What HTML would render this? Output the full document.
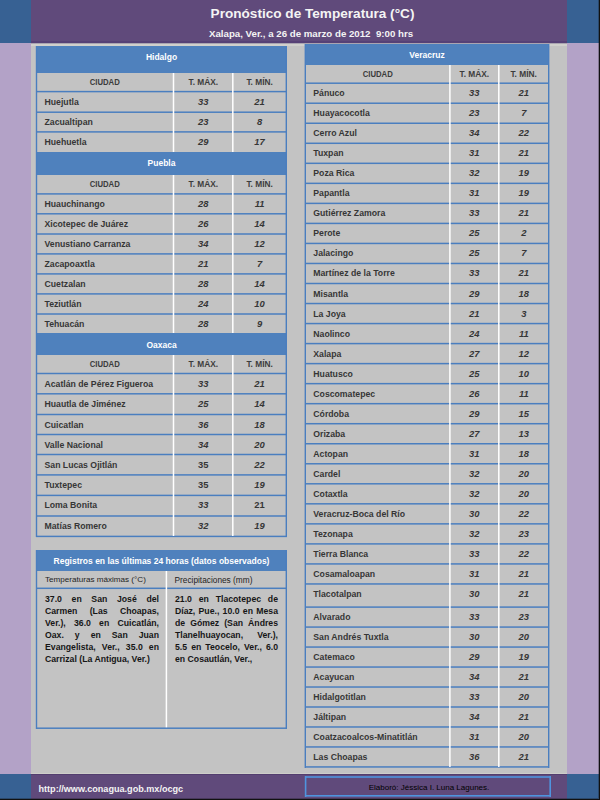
<!DOCTYPE html>
<html><head><meta charset="utf-8"><style>
html,body{margin:0;padding:0;}
body{width:600px;height:800px;position:relative;overflow:hidden;background:#C3C3C3;font-family:"Liberation Sans",sans-serif;}
body>div{position:absolute;white-space:nowrap;overflow:visible;}
.title{color:#F4F4F4;font-weight:bold;font-size:13.6px;}
.sub{color:#F4F4F4;font-weight:bold;font-size:9.7px;}
.hdr{color:#FFFFFF;font-weight:bold;font-size:8.5px;}
.hdr2{color:#FFFFFF;font-weight:bold;font-size:8.5px;}
.colh{color:#3C3C3C;font-weight:bold;font-size:8.6px;}
.city{color:#363636;font-weight:bold;font-size:8.7px;}
.num{color:#363636;font-weight:bold;font-style:italic;font-size:9.4px;}
.numr{color:#363636;font-weight:bold;font-size:9.4px;}
.sub2{color:#1E1E1E;font-size:8.1px;}
.body{color:#161616;font-weight:bold;font-size:8.7px;line-height:12px;height:12px;}
.url{color:#F4F4F4;font-weight:bold;font-size:9.1px;}
.elab{color:#000;font-size:8px;}
</style></head><body>
<div style="left:0px;top:0px;width:31px;height:43px;background:#376193;"></div>
<div style="left:31px;top:0px;width:536px;height:43px;background:#604A7B;"></div>
<div style="left:567px;top:0px;width:32px;height:43px;background:#376193;"></div>
<div style="left:0px;top:43px;width:31px;height:731px;background:#B3A2C7;"></div>
<div style="left:567px;top:43px;width:32px;height:731px;background:#B3A2C7;"></div>
<div style="left:0px;top:774px;width:31px;height:25px;background:#376193;"></div>
<div style="left:31px;top:774px;width:536px;height:25px;background:#604A7B;"></div>
<div style="left:567px;top:774px;width:32px;height:25px;background:#376193;"></div>
<div style="left:31px;top:41px;width:536px;height:2px;background:rgba(70,50,110,0.35);"></div>
<div style="left:31px;top:43px;width:536px;height:1px;background:rgba(96,74,123,0.25);"></div>
<div style="left:31px;top:44px;width:536px;height:2px;background:rgba(225,225,215,0.45);"></div>
<div style="left:31px;top:773px;width:536px;height:1px;background:rgba(225,225,215,0.35);"></div>
<div style="left:31px;top:774px;width:536px;height:1px;background:rgba(60,40,90,0.35);"></div>
<div style="left:599px;top:0px;width:1px;height:800px;background:#111;"></div>
<div style="left:0px;top:799px;width:600px;height:1px;background:#111;"></div>
<div style="left:598px;top:0px;width:1px;height:799px;background:rgba(17,17,17,0.3);"></div>
<div style="left:0px;top:798px;width:598px;height:1px;background:rgba(17,17,17,0.3);"></div>
<div class="title" style="left:112.5px;top:5px;width:400px;height:18px;line-height:18px;text-align:center;">Pronóstico de Temperatura (°C)</div>
<div class="sub" style="left:111px;top:26.5px;width:400px;height:13px;line-height:13px;text-align:center;">Xalapa, Ver., a 26 de marzo de 2012&nbsp; 9:00 hrs</div>
<div style="left:36px;top:46px;width:251px;height:27px;background:#4F81BD;"></div>
<div class="hdr" style="left:36px;top:44px;width:251px;height:27px;line-height:27px;text-align:center;">Hidalgo</div>
<div class="colh" style="left:36.5px;top:73px;width:137.0px;height:18px;line-height:18px;text-align:center;"><span style="display:inline-block;transform:scaleX(0.9)">CIUDAD</span></div>
<div class="colh" style="left:173.5px;top:73px;width:59.3px;height:18px;line-height:18px;text-align:center;"><span style="display:inline-block;transform:scaleX(0.97)">T. MÁX.</span></div>
<div class="colh" style="left:232.8px;top:73px;width:53.5px;height:18px;line-height:18px;text-align:center;"><span style="display:inline-block;transform:scaleX(0.97)">T. MÍN.</span></div>
<div style="left:36px;top:90px;width:251px;height:1px;background:rgba(74,126,191,0.15);"></div>
<div style="left:36px;top:91px;width:251px;height:1px;background:rgba(74,126,191,1.00);"></div>
<div style="left:36px;top:92px;width:251px;height:1px;background:rgba(74,126,191,0.35);"></div>
<div style="left:36px;top:111px;width:251px;height:1px;background:rgba(74,126,191,0.55);"></div>
<div style="left:36px;top:112px;width:251px;height:1px;background:rgba(74,126,191,0.95);"></div>
<div style="left:36px;top:131px;width:251px;height:1px;background:rgba(74,126,191,0.85);"></div>
<div style="left:36px;top:132px;width:251px;height:1px;background:rgba(74,126,191,0.65);"></div>
<div class="city" style="left:44.5px;top:91.6px;width:129.0px;height:20px;line-height:20px;text-align:left;">Huejutla</div>
<div class="num" style="left:173.5px;top:91.6px;width:59.3px;height:20px;line-height:20px;text-align:center;">33</div>
<div class="num" style="left:232.8px;top:91.6px;width:53.5px;height:20px;line-height:20px;text-align:center;">21</div>
<div class="city" style="left:44.5px;top:112.2px;width:129.0px;height:20px;line-height:20px;text-align:left;">Zacualtipan</div>
<div class="num" style="left:173.5px;top:112.2px;width:59.3px;height:20px;line-height:20px;text-align:center;">23</div>
<div class="num" style="left:232.8px;top:112.2px;width:53.5px;height:20px;line-height:20px;text-align:center;">8</div>
<div class="city" style="left:44.5px;top:131.9px;width:129.0px;height:20px;line-height:20px;text-align:left;">Huehuetla</div>
<div class="num" style="left:173.5px;top:131.9px;width:59.3px;height:20px;line-height:20px;text-align:center;">29</div>
<div class="num" style="left:232.8px;top:131.9px;width:53.5px;height:20px;line-height:20px;text-align:center;">17</div>
<div style="left:172px;top:73px;width:1px;height:79px;background:rgba(255,255,255,0.25);"></div>
<div style="left:173px;top:73px;width:1px;height:79px;background:rgba(255,255,255,1.00);"></div>
<div style="left:174px;top:73px;width:1px;height:79px;background:rgba(255,255,255,0.25);"></div>
<div style="left:232px;top:73px;width:1px;height:79px;background:rgba(255,255,255,0.95);"></div>
<div style="left:233px;top:73px;width:1px;height:79px;background:rgba(255,255,255,0.55);"></div>
<div style="left:36px;top:152px;width:251px;height:23px;background:#4F81BD;"></div>
<div class="hdr" style="left:36px;top:152px;width:251px;height:23px;line-height:23px;text-align:center;">Puebla</div>
<div class="colh" style="left:36.5px;top:175px;width:137.0px;height:19px;line-height:19px;text-align:center;"><span style="display:inline-block;transform:scaleX(0.9)">CIUDAD</span></div>
<div class="colh" style="left:173.5px;top:175px;width:59.3px;height:19px;line-height:19px;text-align:center;"><span style="display:inline-block;transform:scaleX(0.97)">T. MÁX.</span></div>
<div class="colh" style="left:232.8px;top:175px;width:53.5px;height:19px;line-height:19px;text-align:center;"><span style="display:inline-block;transform:scaleX(0.97)">T. MÍN.</span></div>
<div style="left:36px;top:193px;width:251px;height:1px;background:rgba(74,126,191,0.85);"></div>
<div style="left:36px;top:194px;width:251px;height:1px;background:rgba(74,126,191,0.65);"></div>
<div style="left:36px;top:213px;width:251px;height:1px;background:rgba(74,126,191,0.95);"></div>
<div style="left:36px;top:214px;width:251px;height:1px;background:rgba(74,126,191,0.55);"></div>
<div style="left:36px;top:233px;width:251px;height:1px;background:rgba(74,126,191,0.75);"></div>
<div style="left:36px;top:234px;width:251px;height:1px;background:rgba(74,126,191,0.75);"></div>
<div style="left:36px;top:253px;width:251px;height:1px;background:rgba(74,126,191,0.85);"></div>
<div style="left:36px;top:254px;width:251px;height:1px;background:rgba(74,126,191,0.65);"></div>
<div style="left:36px;top:273px;width:251px;height:1px;background:rgba(74,126,191,0.85);"></div>
<div style="left:36px;top:274px;width:251px;height:1px;background:rgba(74,126,191,0.65);"></div>
<div style="left:36px;top:293px;width:251px;height:1px;background:rgba(74,126,191,0.85);"></div>
<div style="left:36px;top:294px;width:251px;height:1px;background:rgba(74,126,191,0.65);"></div>
<div style="left:36px;top:313px;width:251px;height:1px;background:rgba(74,126,191,0.75);"></div>
<div style="left:36px;top:314px;width:251px;height:1px;background:rgba(74,126,191,0.75);"></div>
<div class="city" style="left:44.5px;top:193.9px;width:129.0px;height:20px;line-height:20px;text-align:left;">Huauchinango</div>
<div class="num" style="left:173.5px;top:193.9px;width:59.3px;height:20px;line-height:20px;text-align:center;">28</div>
<div class="num" style="left:232.8px;top:193.9px;width:53.5px;height:20px;line-height:20px;text-align:center;">11</div>
<div class="city" style="left:44.5px;top:213.8px;width:129.0px;height:20px;line-height:20px;text-align:left;">Xicotepec de Juárez</div>
<div class="num" style="left:173.5px;top:213.8px;width:59.3px;height:20px;line-height:20px;text-align:center;">26</div>
<div class="num" style="left:232.8px;top:213.8px;width:53.5px;height:20px;line-height:20px;text-align:center;">14</div>
<div class="city" style="left:44.5px;top:234.0px;width:129.0px;height:20px;line-height:20px;text-align:left;">Venustiano Carranza</div>
<div class="num" style="left:173.5px;top:234.0px;width:59.3px;height:20px;line-height:20px;text-align:center;">34</div>
<div class="num" style="left:232.8px;top:234.0px;width:53.5px;height:20px;line-height:20px;text-align:center;">12</div>
<div class="city" style="left:44.5px;top:253.9px;width:129.0px;height:20px;line-height:20px;text-align:left;">Zacapoaxtla</div>
<div class="num" style="left:173.5px;top:253.9px;width:59.3px;height:20px;line-height:20px;text-align:center;">21</div>
<div class="num" style="left:232.8px;top:253.9px;width:53.5px;height:20px;line-height:20px;text-align:center;">7</div>
<div class="city" style="left:44.5px;top:273.9px;width:129.0px;height:20px;line-height:20px;text-align:left;">Cuetzalan</div>
<div class="num" style="left:173.5px;top:273.9px;width:59.3px;height:20px;line-height:20px;text-align:center;">28</div>
<div class="num" style="left:232.8px;top:273.9px;width:53.5px;height:20px;line-height:20px;text-align:center;">14</div>
<div class="city" style="left:44.5px;top:293.9px;width:129.0px;height:20px;line-height:20px;text-align:left;">Teziutlán</div>
<div class="num" style="left:173.5px;top:293.9px;width:59.3px;height:20px;line-height:20px;text-align:center;">24</div>
<div class="num" style="left:232.8px;top:293.9px;width:53.5px;height:20px;line-height:20px;text-align:center;">10</div>
<div class="city" style="left:44.5px;top:314.0px;width:129.0px;height:20px;line-height:20px;text-align:left;">Tehuacán</div>
<div class="num" style="left:173.5px;top:314.0px;width:59.3px;height:20px;line-height:20px;text-align:center;">28</div>
<div class="num" style="left:232.8px;top:314.0px;width:53.5px;height:20px;line-height:20px;text-align:center;">9</div>
<div style="left:172px;top:175px;width:1px;height:158px;background:rgba(255,255,255,0.25);"></div>
<div style="left:173px;top:175px;width:1px;height:158px;background:rgba(255,255,255,1.00);"></div>
<div style="left:174px;top:175px;width:1px;height:158px;background:rgba(255,255,255,0.25);"></div>
<div style="left:232px;top:175px;width:1px;height:158px;background:rgba(255,255,255,0.95);"></div>
<div style="left:233px;top:175px;width:1px;height:158px;background:rgba(255,255,255,0.55);"></div>
<div style="left:36px;top:333px;width:251px;height:22px;background:#4F81BD;"></div>
<div class="hdr" style="left:36px;top:334px;width:251px;height:22px;line-height:22px;text-align:center;">Oaxaca</div>
<div class="colh" style="left:36.5px;top:355px;width:137.0px;height:18px;line-height:18px;text-align:center;"><span style="display:inline-block;transform:scaleX(0.9)">CIUDAD</span></div>
<div class="colh" style="left:173.5px;top:355px;width:59.3px;height:18px;line-height:18px;text-align:center;"><span style="display:inline-block;transform:scaleX(0.97)">T. MÁX.</span></div>
<div class="colh" style="left:232.8px;top:355px;width:53.5px;height:18px;line-height:18px;text-align:center;"><span style="display:inline-block;transform:scaleX(0.97)">T. MÍN.</span></div>
<div style="left:36px;top:372px;width:251px;height:1px;background:rgba(74,126,191,0.25);"></div>
<div style="left:36px;top:373px;width:251px;height:1px;background:rgba(74,126,191,1.00);"></div>
<div style="left:36px;top:374px;width:251px;height:1px;background:rgba(74,126,191,0.25);"></div>
<div style="left:36px;top:393px;width:251px;height:1px;background:rgba(74,126,191,0.95);"></div>
<div style="left:36px;top:394px;width:251px;height:1px;background:rgba(74,126,191,0.55);"></div>
<div style="left:36px;top:413px;width:251px;height:1px;background:rgba(74,126,191,0.25);"></div>
<div style="left:36px;top:414px;width:251px;height:1px;background:rgba(74,126,191,1.00);"></div>
<div style="left:36px;top:415px;width:251px;height:1px;background:rgba(74,126,191,0.25);"></div>
<div style="left:36px;top:433px;width:251px;height:1px;background:rgba(74,126,191,0.25);"></div>
<div style="left:36px;top:434px;width:251px;height:1px;background:rgba(74,126,191,1.00);"></div>
<div style="left:36px;top:435px;width:251px;height:1px;background:rgba(74,126,191,0.25);"></div>
<div style="left:36px;top:453px;width:251px;height:1px;background:rgba(74,126,191,0.25);"></div>
<div style="left:36px;top:454px;width:251px;height:1px;background:rgba(74,126,191,1.00);"></div>
<div style="left:36px;top:455px;width:251px;height:1px;background:rgba(74,126,191,0.25);"></div>
<div style="left:36px;top:474px;width:251px;height:1px;background:rgba(74,126,191,0.85);"></div>
<div style="left:36px;top:475px;width:251px;height:1px;background:rgba(74,126,191,0.65);"></div>
<div style="left:36px;top:494px;width:251px;height:1px;background:rgba(74,126,191,0.35);"></div>
<div style="left:36px;top:495px;width:251px;height:1px;background:rgba(74,126,191,1.00);"></div>
<div style="left:36px;top:496px;width:251px;height:1px;background:rgba(74,126,191,0.15);"></div>
<div style="left:36px;top:515px;width:251px;height:1px;background:rgba(74,126,191,0.75);"></div>
<div style="left:36px;top:516px;width:251px;height:1px;background:rgba(74,126,191,0.75);"></div>
<div style="left:36px;top:535px;width:251px;height:1px;background:rgba(74,126,191,0.35);"></div>
<div style="left:36px;top:536px;width:251px;height:1px;background:rgba(74,126,191,1.00);"></div>
<div style="left:36px;top:537px;width:251px;height:1px;background:rgba(74,126,191,0.15);"></div>
<div class="city" style="left:44.5px;top:373.5px;width:129.0px;height:20px;line-height:20px;text-align:left;">Acatlán de Pérez Figueroa</div>
<div class="num" style="left:173.5px;top:373.5px;width:59.3px;height:20px;line-height:20px;text-align:center;">33</div>
<div class="num" style="left:232.8px;top:373.5px;width:53.5px;height:20px;line-height:20px;text-align:center;">21</div>
<div class="city" style="left:44.5px;top:393.8px;width:129.0px;height:20px;line-height:20px;text-align:left;">Huautla de Jiménez</div>
<div class="num" style="left:173.5px;top:393.8px;width:59.3px;height:20px;line-height:20px;text-align:center;">25</div>
<div class="num" style="left:232.8px;top:393.8px;width:53.5px;height:20px;line-height:20px;text-align:center;">14</div>
<div class="city" style="left:44.5px;top:414.5px;width:129.0px;height:20px;line-height:20px;text-align:left;">Cuicatlan</div>
<div class="num" style="left:173.5px;top:414.5px;width:59.3px;height:20px;line-height:20px;text-align:center;">36</div>
<div class="num" style="left:232.8px;top:414.5px;width:53.5px;height:20px;line-height:20px;text-align:center;">18</div>
<div class="city" style="left:44.5px;top:434.5px;width:129.0px;height:20px;line-height:20px;text-align:left;">Valle Nacional</div>
<div class="num" style="left:173.5px;top:434.5px;width:59.3px;height:20px;line-height:20px;text-align:center;">34</div>
<div class="num" style="left:232.8px;top:434.5px;width:53.5px;height:20px;line-height:20px;text-align:center;">20</div>
<div class="city" style="left:44.5px;top:454.5px;width:129.0px;height:20px;line-height:20px;text-align:left;">San Lucas Ojitlán</div>
<div class="numr" style="left:173.5px;top:454.5px;width:59.3px;height:20px;line-height:20px;text-align:center;">35</div>
<div class="num" style="left:232.8px;top:454.5px;width:53.5px;height:20px;line-height:20px;text-align:center;">22</div>
<div class="city" style="left:44.5px;top:474.9px;width:129.0px;height:20px;line-height:20px;text-align:left;">Tuxtepec</div>
<div class="numr" style="left:173.5px;top:474.9px;width:59.3px;height:20px;line-height:20px;text-align:center;">35</div>
<div class="num" style="left:232.8px;top:474.9px;width:53.5px;height:20px;line-height:20px;text-align:center;">19</div>
<div class="city" style="left:44.5px;top:495.4px;width:129.0px;height:20px;line-height:20px;text-align:left;">Loma Bonita</div>
<div class="num" style="left:173.5px;top:495.4px;width:59.3px;height:20px;line-height:20px;text-align:center;">33</div>
<div class="numr" style="left:232.8px;top:495.4px;width:53.5px;height:20px;line-height:20px;text-align:center;">21</div>
<div class="city" style="left:44.5px;top:516.0px;width:129.0px;height:20px;line-height:20px;text-align:left;">Matías Romero</div>
<div class="num" style="left:173.5px;top:516.0px;width:59.3px;height:20px;line-height:20px;text-align:center;">32</div>
<div class="num" style="left:232.8px;top:516.0px;width:53.5px;height:20px;line-height:20px;text-align:center;">19</div>
<div style="left:172px;top:355px;width:1px;height:181px;background:rgba(255,255,255,0.25);"></div>
<div style="left:173px;top:355px;width:1px;height:181px;background:rgba(255,255,255,1.00);"></div>
<div style="left:174px;top:355px;width:1px;height:181px;background:rgba(255,255,255,0.25);"></div>
<div style="left:232px;top:355px;width:1px;height:181px;background:rgba(255,255,255,0.95);"></div>
<div style="left:233px;top:355px;width:1px;height:181px;background:rgba(255,255,255,0.55);"></div>
<div style="left:35px;top:46px;width:1px;height:491px;background:rgba(74,126,191,0.20);"></div>
<div style="left:36px;top:46px;width:1px;height:491px;background:rgba(74,126,191,1.00);"></div>
<div style="left:37px;top:46px;width:1px;height:491px;background:rgba(74,126,191,0.20);"></div>
<div style="left:285px;top:46px;width:1px;height:491px;background:rgba(74,126,191,0.40);"></div>
<div style="left:286px;top:46px;width:1px;height:491px;background:rgba(74,126,191,1.00);"></div>
<div style="left:305px;top:44px;width:244px;height:21px;background:#4F81BD;"></div>
<div class="hdr" style="left:305px;top:44.5px;width:244px;height:21px;line-height:21px;text-align:center;">Veracruz</div>
<div class="colh" style="left:305.3px;top:65px;width:144.6px;height:18px;line-height:18px;text-align:center;"><span style="display:inline-block;transform:scaleX(0.9)">CIUDAD</span></div>
<div class="colh" style="left:449.9px;top:65px;width:48.9px;height:18px;line-height:18px;text-align:center;"><span style="display:inline-block;transform:scaleX(0.97)">T. MÁX.</span></div>
<div class="colh" style="left:498.8px;top:65px;width:49.9px;height:18px;line-height:18px;text-align:center;"><span style="display:inline-block;transform:scaleX(0.97)">T. MÍN.</span></div>
<div style="left:305px;top:82px;width:244px;height:1px;background:rgba(74,126,191,0.55);"></div>
<div style="left:305px;top:83px;width:244px;height:1px;background:rgba(74,126,191,0.95);"></div>
<div style="left:305px;top:102px;width:244px;height:1px;background:rgba(74,126,191,0.52);"></div>
<div style="left:305px;top:103px;width:244px;height:1px;background:rgba(74,126,191,0.98);"></div>
<div style="left:305px;top:122px;width:244px;height:1px;background:rgba(74,126,191,0.49);"></div>
<div style="left:305px;top:123px;width:244px;height:1px;background:rgba(74,126,191,1.00);"></div>
<div style="left:305px;top:142px;width:244px;height:1px;background:rgba(74,126,191,0.46);"></div>
<div style="left:305px;top:143px;width:244px;height:1px;background:rgba(74,126,191,1.00);"></div>
<div style="left:305px;top:144px;width:244px;height:1px;background:rgba(74,126,191,0.04);"></div>
<div style="left:305px;top:162px;width:244px;height:1px;background:rgba(74,126,191,0.43);"></div>
<div style="left:305px;top:163px;width:244px;height:1px;background:rgba(74,126,191,1.00);"></div>
<div style="left:305px;top:164px;width:244px;height:1px;background:rgba(74,126,191,0.07);"></div>
<div style="left:305px;top:182px;width:244px;height:1px;background:rgba(74,126,191,0.40);"></div>
<div style="left:305px;top:183px;width:244px;height:1px;background:rgba(74,126,191,1.00);"></div>
<div style="left:305px;top:184px;width:244px;height:1px;background:rgba(74,126,191,0.10);"></div>
<div style="left:305px;top:202px;width:244px;height:1px;background:rgba(74,126,191,0.37);"></div>
<div style="left:305px;top:203px;width:244px;height:1px;background:rgba(74,126,191,1.00);"></div>
<div style="left:305px;top:204px;width:244px;height:1px;background:rgba(74,126,191,0.13);"></div>
<div style="left:305px;top:222px;width:244px;height:1px;background:rgba(74,126,191,0.34);"></div>
<div style="left:305px;top:223px;width:244px;height:1px;background:rgba(74,126,191,1.00);"></div>
<div style="left:305px;top:224px;width:244px;height:1px;background:rgba(74,126,191,0.16);"></div>
<div style="left:305px;top:242px;width:244px;height:1px;background:rgba(74,126,191,0.31);"></div>
<div style="left:305px;top:243px;width:244px;height:1px;background:rgba(74,126,191,1.00);"></div>
<div style="left:305px;top:244px;width:244px;height:1px;background:rgba(74,126,191,0.19);"></div>
<div style="left:305px;top:262px;width:244px;height:1px;background:rgba(74,126,191,0.28);"></div>
<div style="left:305px;top:263px;width:244px;height:1px;background:rgba(74,126,191,1.00);"></div>
<div style="left:305px;top:264px;width:244px;height:1px;background:rgba(74,126,191,0.22);"></div>
<div style="left:305px;top:282px;width:244px;height:1px;background:rgba(74,126,191,0.25);"></div>
<div style="left:305px;top:283px;width:244px;height:1px;background:rgba(74,126,191,1.00);"></div>
<div style="left:305px;top:284px;width:244px;height:1px;background:rgba(74,126,191,0.25);"></div>
<div style="left:305px;top:302px;width:244px;height:1px;background:rgba(74,126,191,0.22);"></div>
<div style="left:305px;top:303px;width:244px;height:1px;background:rgba(74,126,191,1.00);"></div>
<div style="left:305px;top:304px;width:244px;height:1px;background:rgba(74,126,191,0.28);"></div>
<div style="left:305px;top:322px;width:244px;height:1px;background:rgba(74,126,191,0.19);"></div>
<div style="left:305px;top:323px;width:244px;height:1px;background:rgba(74,126,191,1.00);"></div>
<div style="left:305px;top:324px;width:244px;height:1px;background:rgba(74,126,191,0.31);"></div>
<div style="left:305px;top:342px;width:244px;height:1px;background:rgba(74,126,191,0.16);"></div>
<div style="left:305px;top:343px;width:244px;height:1px;background:rgba(74,126,191,1.00);"></div>
<div style="left:305px;top:344px;width:244px;height:1px;background:rgba(74,126,191,0.34);"></div>
<div style="left:305px;top:362px;width:244px;height:1px;background:rgba(74,126,191,0.13);"></div>
<div style="left:305px;top:363px;width:244px;height:1px;background:rgba(74,126,191,1.00);"></div>
<div style="left:305px;top:364px;width:244px;height:1px;background:rgba(74,126,191,0.37);"></div>
<div style="left:305px;top:382px;width:244px;height:1px;background:rgba(74,126,191,0.10);"></div>
<div style="left:305px;top:383px;width:244px;height:1px;background:rgba(74,126,191,1.00);"></div>
<div style="left:305px;top:384px;width:244px;height:1px;background:rgba(74,126,191,0.40);"></div>
<div style="left:305px;top:402px;width:244px;height:1px;background:rgba(74,126,191,0.07);"></div>
<div style="left:305px;top:403px;width:244px;height:1px;background:rgba(74,126,191,1.00);"></div>
<div style="left:305px;top:404px;width:244px;height:1px;background:rgba(74,126,191,0.43);"></div>
<div style="left:305px;top:422px;width:244px;height:1px;background:rgba(74,126,191,0.04);"></div>
<div style="left:305px;top:423px;width:244px;height:1px;background:rgba(74,126,191,1.00);"></div>
<div style="left:305px;top:424px;width:244px;height:1px;background:rgba(74,126,191,0.46);"></div>
<div style="left:305px;top:443px;width:244px;height:1px;background:rgba(74,126,191,1.00);"></div>
<div style="left:305px;top:444px;width:244px;height:1px;background:rgba(74,126,191,0.49);"></div>
<div style="left:305px;top:463px;width:244px;height:1px;background:rgba(74,126,191,0.98);"></div>
<div style="left:305px;top:464px;width:244px;height:1px;background:rgba(74,126,191,0.52);"></div>
<div style="left:305px;top:483px;width:244px;height:1px;background:rgba(74,126,191,0.95);"></div>
<div style="left:305px;top:484px;width:244px;height:1px;background:rgba(74,126,191,0.55);"></div>
<div style="left:305px;top:503px;width:244px;height:1px;background:rgba(74,126,191,0.92);"></div>
<div style="left:305px;top:504px;width:244px;height:1px;background:rgba(74,126,191,0.58);"></div>
<div style="left:305px;top:523px;width:244px;height:1px;background:rgba(74,126,191,0.89);"></div>
<div style="left:305px;top:524px;width:244px;height:1px;background:rgba(74,126,191,0.61);"></div>
<div style="left:305px;top:543px;width:244px;height:1px;background:rgba(74,126,191,0.86);"></div>
<div style="left:305px;top:544px;width:244px;height:1px;background:rgba(74,126,191,0.64);"></div>
<div style="left:305px;top:563px;width:244px;height:1px;background:rgba(74,126,191,0.83);"></div>
<div style="left:305px;top:564px;width:244px;height:1px;background:rgba(74,126,191,0.67);"></div>
<div style="left:305px;top:583px;width:244px;height:1px;background:rgba(74,126,191,0.80);"></div>
<div style="left:305px;top:584px;width:244px;height:1px;background:rgba(74,126,191,0.70);"></div>
<div style="left:305px;top:606px;width:244px;height:1px;background:rgba(74,126,191,0.65);"></div>
<div style="left:305px;top:607px;width:244px;height:1px;background:rgba(74,126,191,0.85);"></div>
<div style="left:305px;top:626px;width:244px;height:1px;background:rgba(74,126,191,0.67);"></div>
<div style="left:305px;top:627px;width:244px;height:1px;background:rgba(74,126,191,0.83);"></div>
<div style="left:305px;top:646px;width:244px;height:1px;background:rgba(74,126,191,0.69);"></div>
<div style="left:305px;top:647px;width:244px;height:1px;background:rgba(74,126,191,0.81);"></div>
<div style="left:305px;top:666px;width:244px;height:1px;background:rgba(74,126,191,0.71);"></div>
<div style="left:305px;top:667px;width:244px;height:1px;background:rgba(74,126,191,0.79);"></div>
<div style="left:305px;top:686px;width:244px;height:1px;background:rgba(74,126,191,0.73);"></div>
<div style="left:305px;top:687px;width:244px;height:1px;background:rgba(74,126,191,0.77);"></div>
<div style="left:305px;top:706px;width:244px;height:1px;background:rgba(74,126,191,0.75);"></div>
<div style="left:305px;top:707px;width:244px;height:1px;background:rgba(74,126,191,0.75);"></div>
<div style="left:305px;top:726px;width:244px;height:1px;background:rgba(74,126,191,0.77);"></div>
<div style="left:305px;top:727px;width:244px;height:1px;background:rgba(74,126,191,0.73);"></div>
<div style="left:305px;top:746px;width:244px;height:1px;background:rgba(74,126,191,0.79);"></div>
<div style="left:305px;top:747px;width:244px;height:1px;background:rgba(74,126,191,0.71);"></div>
<div style="left:305px;top:766px;width:244px;height:1px;background:rgba(74,126,191,0.81);"></div>
<div style="left:305px;top:767px;width:244px;height:1px;background:rgba(74,126,191,0.69);"></div>
<div class="city" style="left:313.3px;top:83.2px;width:136.6px;height:20px;line-height:20px;text-align:left;">Pánuco</div>
<div class="num" style="left:449.9px;top:83.2px;width:48.9px;height:20px;line-height:20px;text-align:center;">33</div>
<div class="num" style="left:498.8px;top:83.2px;width:49.9px;height:20px;line-height:20px;text-align:center;">21</div>
<div class="city" style="left:313.3px;top:103.23px;width:136.6px;height:20px;line-height:20px;text-align:left;">Huayacocotla</div>
<div class="num" style="left:449.9px;top:103.23px;width:48.9px;height:20px;line-height:20px;text-align:center;">23</div>
<div class="num" style="left:498.8px;top:103.23px;width:49.9px;height:20px;line-height:20px;text-align:center;">7</div>
<div class="city" style="left:313.3px;top:123.26px;width:136.6px;height:20px;line-height:20px;text-align:left;">Cerro Azul</div>
<div class="num" style="left:449.9px;top:123.26px;width:48.9px;height:20px;line-height:20px;text-align:center;">34</div>
<div class="num" style="left:498.8px;top:123.26px;width:49.9px;height:20px;line-height:20px;text-align:center;">22</div>
<div class="city" style="left:313.3px;top:143.29px;width:136.6px;height:20px;line-height:20px;text-align:left;">Tuxpan</div>
<div class="num" style="left:449.9px;top:143.29px;width:48.9px;height:20px;line-height:20px;text-align:center;">31</div>
<div class="num" style="left:498.8px;top:143.29px;width:49.9px;height:20px;line-height:20px;text-align:center;">21</div>
<div class="city" style="left:313.3px;top:163.32px;width:136.6px;height:20px;line-height:20px;text-align:left;">Poza Rica</div>
<div class="num" style="left:449.9px;top:163.32px;width:48.9px;height:20px;line-height:20px;text-align:center;">32</div>
<div class="num" style="left:498.8px;top:163.32px;width:49.9px;height:20px;line-height:20px;text-align:center;">19</div>
<div class="city" style="left:313.3px;top:183.35px;width:136.6px;height:20px;line-height:20px;text-align:left;">Papantla</div>
<div class="num" style="left:449.9px;top:183.35px;width:48.9px;height:20px;line-height:20px;text-align:center;">31</div>
<div class="num" style="left:498.8px;top:183.35px;width:49.9px;height:20px;line-height:20px;text-align:center;">19</div>
<div class="city" style="left:313.3px;top:203.38px;width:136.6px;height:20px;line-height:20px;text-align:left;">Gutiérrez Zamora</div>
<div class="num" style="left:449.9px;top:203.38px;width:48.9px;height:20px;line-height:20px;text-align:center;">33</div>
<div class="num" style="left:498.8px;top:203.38px;width:49.9px;height:20px;line-height:20px;text-align:center;">21</div>
<div class="city" style="left:313.3px;top:223.41px;width:136.6px;height:20px;line-height:20px;text-align:left;">Perote</div>
<div class="num" style="left:449.9px;top:223.41px;width:48.9px;height:20px;line-height:20px;text-align:center;">25</div>
<div class="num" style="left:498.8px;top:223.41px;width:49.9px;height:20px;line-height:20px;text-align:center;">2</div>
<div class="city" style="left:313.3px;top:243.44px;width:136.6px;height:20px;line-height:20px;text-align:left;">Jalacingo</div>
<div class="num" style="left:449.9px;top:243.44px;width:48.9px;height:20px;line-height:20px;text-align:center;">25</div>
<div class="num" style="left:498.8px;top:243.44px;width:49.9px;height:20px;line-height:20px;text-align:center;">7</div>
<div class="city" style="left:313.3px;top:263.47px;width:136.6px;height:20px;line-height:20px;text-align:left;">Martínez de la Torre</div>
<div class="num" style="left:449.9px;top:263.47px;width:48.9px;height:20px;line-height:20px;text-align:center;">33</div>
<div class="num" style="left:498.8px;top:263.47px;width:49.9px;height:20px;line-height:20px;text-align:center;">21</div>
<div class="city" style="left:313.3px;top:283.5px;width:136.6px;height:20px;line-height:20px;text-align:left;">Misantla</div>
<div class="num" style="left:449.9px;top:283.5px;width:48.9px;height:20px;line-height:20px;text-align:center;">29</div>
<div class="num" style="left:498.8px;top:283.5px;width:49.9px;height:20px;line-height:20px;text-align:center;">18</div>
<div class="city" style="left:313.3px;top:303.53px;width:136.6px;height:20px;line-height:20px;text-align:left;">La Joya</div>
<div class="num" style="left:449.9px;top:303.53px;width:48.9px;height:20px;line-height:20px;text-align:center;">21</div>
<div class="num" style="left:498.8px;top:303.53px;width:49.9px;height:20px;line-height:20px;text-align:center;">3</div>
<div class="city" style="left:313.3px;top:323.56px;width:136.6px;height:20px;line-height:20px;text-align:left;">Naolinco</div>
<div class="num" style="left:449.9px;top:323.56px;width:48.9px;height:20px;line-height:20px;text-align:center;">24</div>
<div class="num" style="left:498.8px;top:323.56px;width:49.9px;height:20px;line-height:20px;text-align:center;">11</div>
<div class="city" style="left:313.3px;top:343.59px;width:136.6px;height:20px;line-height:20px;text-align:left;">Xalapa</div>
<div class="num" style="left:449.9px;top:343.59px;width:48.9px;height:20px;line-height:20px;text-align:center;">27</div>
<div class="num" style="left:498.8px;top:343.59px;width:49.9px;height:20px;line-height:20px;text-align:center;">12</div>
<div class="city" style="left:313.3px;top:363.62px;width:136.6px;height:20px;line-height:20px;text-align:left;">Huatusco</div>
<div class="num" style="left:449.9px;top:363.62px;width:48.9px;height:20px;line-height:20px;text-align:center;">25</div>
<div class="num" style="left:498.8px;top:363.62px;width:49.9px;height:20px;line-height:20px;text-align:center;">10</div>
<div class="city" style="left:313.3px;top:383.65px;width:136.6px;height:20px;line-height:20px;text-align:left;">Coscomatepec</div>
<div class="num" style="left:449.9px;top:383.65px;width:48.9px;height:20px;line-height:20px;text-align:center;">26</div>
<div class="num" style="left:498.8px;top:383.65px;width:49.9px;height:20px;line-height:20px;text-align:center;">11</div>
<div class="city" style="left:313.3px;top:403.68px;width:136.6px;height:20px;line-height:20px;text-align:left;">Córdoba</div>
<div class="num" style="left:449.9px;top:403.68px;width:48.9px;height:20px;line-height:20px;text-align:center;">29</div>
<div class="num" style="left:498.8px;top:403.68px;width:49.9px;height:20px;line-height:20px;text-align:center;">15</div>
<div class="city" style="left:313.3px;top:423.71px;width:136.6px;height:20px;line-height:20px;text-align:left;">Orizaba</div>
<div class="num" style="left:449.9px;top:423.71px;width:48.9px;height:20px;line-height:20px;text-align:center;">27</div>
<div class="num" style="left:498.8px;top:423.71px;width:49.9px;height:20px;line-height:20px;text-align:center;">13</div>
<div class="city" style="left:313.3px;top:443.74px;width:136.6px;height:20px;line-height:20px;text-align:left;">Actopan</div>
<div class="num" style="left:449.9px;top:443.74px;width:48.9px;height:20px;line-height:20px;text-align:center;">31</div>
<div class="num" style="left:498.8px;top:443.74px;width:49.9px;height:20px;line-height:20px;text-align:center;">18</div>
<div class="city" style="left:313.3px;top:463.77px;width:136.6px;height:20px;line-height:20px;text-align:left;">Cardel</div>
<div class="num" style="left:449.9px;top:463.77px;width:48.9px;height:20px;line-height:20px;text-align:center;">32</div>
<div class="num" style="left:498.8px;top:463.77px;width:49.9px;height:20px;line-height:20px;text-align:center;">20</div>
<div class="city" style="left:313.3px;top:483.8px;width:136.6px;height:20px;line-height:20px;text-align:left;">Cotaxtla</div>
<div class="num" style="left:449.9px;top:483.8px;width:48.9px;height:20px;line-height:20px;text-align:center;">32</div>
<div class="num" style="left:498.8px;top:483.8px;width:49.9px;height:20px;line-height:20px;text-align:center;">20</div>
<div class="city" style="left:313.3px;top:503.83px;width:136.6px;height:20px;line-height:20px;text-align:left;">Veracruz-Boca del Río</div>
<div class="num" style="left:449.9px;top:503.83px;width:48.9px;height:20px;line-height:20px;text-align:center;">30</div>
<div class="num" style="left:498.8px;top:503.83px;width:49.9px;height:20px;line-height:20px;text-align:center;">22</div>
<div class="city" style="left:313.3px;top:523.86px;width:136.6px;height:20px;line-height:20px;text-align:left;">Tezonapa</div>
<div class="num" style="left:449.9px;top:523.86px;width:48.9px;height:20px;line-height:20px;text-align:center;">32</div>
<div class="num" style="left:498.8px;top:523.86px;width:49.9px;height:20px;line-height:20px;text-align:center;">23</div>
<div class="city" style="left:313.3px;top:543.89px;width:136.6px;height:20px;line-height:20px;text-align:left;">Tierra Blanca</div>
<div class="num" style="left:449.9px;top:543.89px;width:48.9px;height:20px;line-height:20px;text-align:center;">33</div>
<div class="num" style="left:498.8px;top:543.89px;width:49.9px;height:20px;line-height:20px;text-align:center;">22</div>
<div class="city" style="left:313.3px;top:563.92px;width:136.6px;height:20px;line-height:20px;text-align:left;">Cosamaloapan</div>
<div class="num" style="left:449.9px;top:563.92px;width:48.9px;height:20px;line-height:20px;text-align:center;">31</div>
<div class="num" style="left:498.8px;top:563.92px;width:49.9px;height:20px;line-height:20px;text-align:center;">21</div>
<div class="city" style="left:313.3px;top:583.95px;width:136.6px;height:20px;line-height:20px;text-align:left;">Tlacotalpan</div>
<div class="num" style="left:449.9px;top:583.95px;width:48.9px;height:20px;line-height:20px;text-align:center;">30</div>
<div class="num" style="left:498.8px;top:583.95px;width:49.9px;height:20px;line-height:20px;text-align:center;">21</div>
<div class="city" style="left:313.3px;top:607.1px;width:136.6px;height:20px;line-height:20px;text-align:left;">Alvarado</div>
<div class="num" style="left:449.9px;top:607.1px;width:48.9px;height:20px;line-height:20px;text-align:center;">33</div>
<div class="num" style="left:498.8px;top:607.1px;width:49.9px;height:20px;line-height:20px;text-align:center;">23</div>
<div class="city" style="left:313.3px;top:627.08px;width:136.6px;height:20px;line-height:20px;text-align:left;">San Andrés Tuxtla</div>
<div class="num" style="left:449.9px;top:627.08px;width:48.9px;height:20px;line-height:20px;text-align:center;">30</div>
<div class="num" style="left:498.8px;top:627.08px;width:49.9px;height:20px;line-height:20px;text-align:center;">20</div>
<div class="city" style="left:313.3px;top:647.06px;width:136.6px;height:20px;line-height:20px;text-align:left;">Catemaco</div>
<div class="num" style="left:449.9px;top:647.06px;width:48.9px;height:20px;line-height:20px;text-align:center;">29</div>
<div class="num" style="left:498.8px;top:647.06px;width:49.9px;height:20px;line-height:20px;text-align:center;">19</div>
<div class="city" style="left:313.3px;top:667.04px;width:136.6px;height:20px;line-height:20px;text-align:left;">Acayucan</div>
<div class="num" style="left:449.9px;top:667.04px;width:48.9px;height:20px;line-height:20px;text-align:center;">34</div>
<div class="num" style="left:498.8px;top:667.04px;width:49.9px;height:20px;line-height:20px;text-align:center;">21</div>
<div class="city" style="left:313.3px;top:687.02px;width:136.6px;height:20px;line-height:20px;text-align:left;">Hidalgotitlan</div>
<div class="num" style="left:449.9px;top:687.02px;width:48.9px;height:20px;line-height:20px;text-align:center;">33</div>
<div class="num" style="left:498.8px;top:687.02px;width:49.9px;height:20px;line-height:20px;text-align:center;">20</div>
<div class="city" style="left:313.3px;top:707.0px;width:136.6px;height:20px;line-height:20px;text-align:left;">Jáltipan</div>
<div class="num" style="left:449.9px;top:707.0px;width:48.9px;height:20px;line-height:20px;text-align:center;">34</div>
<div class="num" style="left:498.8px;top:707.0px;width:49.9px;height:20px;line-height:20px;text-align:center;">21</div>
<div class="city" style="left:313.3px;top:726.98px;width:136.6px;height:20px;line-height:20px;text-align:left;">Coatzacoalcos-Minatitlán</div>
<div class="num" style="left:449.9px;top:726.98px;width:48.9px;height:20px;line-height:20px;text-align:center;">31</div>
<div class="num" style="left:498.8px;top:726.98px;width:49.9px;height:20px;line-height:20px;text-align:center;">20</div>
<div class="city" style="left:313.3px;top:746.96px;width:136.6px;height:20px;line-height:20px;text-align:left;">Las Choapas</div>
<div class="num" style="left:449.9px;top:746.96px;width:48.9px;height:20px;line-height:20px;text-align:center;">36</div>
<div class="num" style="left:498.8px;top:746.96px;width:49.9px;height:20px;line-height:20px;text-align:center;">21</div>
<div style="left:449px;top:65px;width:1px;height:702px;background:rgba(255,255,255,0.85);"></div>
<div style="left:450px;top:65px;width:1px;height:702px;background:rgba(255,255,255,0.65);"></div>
<div style="left:498px;top:65px;width:1px;height:702px;background:rgba(255,255,255,0.95);"></div>
<div style="left:499px;top:65px;width:1px;height:702px;background:rgba(255,255,255,0.55);"></div>
<div style="left:304px;top:44px;width:1px;height:724px;background:rgba(74,126,191,0.40);"></div>
<div style="left:305px;top:44px;width:1px;height:724px;background:rgba(74,126,191,1.00);"></div>
<div style="left:548px;top:44px;width:1px;height:724px;background:rgba(74,126,191,1.00);"></div>
<div style="left:549px;top:44px;width:1px;height:724px;background:rgba(74,126,191,0.40);"></div>
<div style="left:36px;top:550px;width:251px;height:21px;background:#4F81BD;"></div>
<div class="hdr2" style="left:36px;top:550.5px;width:251px;height:20px;line-height:20px;text-align:center;">Registros en las últimas 24 horas (datos observados)</div>
<div class="sub2" style="left:45px;top:570.5px;width:120px;height:18px;line-height:18px;text-align:left;">Temperaturas máximas (°C)</div>
<div class="sub2" style="left:174.5px;top:570.5px;width:110px;height:18px;line-height:18px;text-align:left;"><span style="font-size:8.3px">Precipitaciones (mm)</span></div>
<div style="left:36px;top:587px;width:251px;height:1px;background:rgba(74,126,191,0.45);"></div>
<div style="left:36px;top:588px;width:251px;height:1px;background:rgba(74,126,191,1.00);"></div>
<div style="left:36px;top:589px;width:251px;height:1px;background:rgba(74,126,191,0.05);"></div>
<div style="left:165px;top:571px;width:1px;height:157px;background:rgba(255,255,255,0.35);"></div>
<div style="left:166px;top:571px;width:1px;height:157px;background:rgba(255,255,255,1.00);"></div>
<div style="left:167px;top:571px;width:1px;height:157px;background:rgba(255,255,255,0.15);"></div>
<div style="left:35px;top:550px;width:1px;height:179px;background:rgba(74,126,191,0.20);"></div>
<div style="left:36px;top:550px;width:1px;height:179px;background:rgba(74,126,191,1.00);"></div>
<div style="left:37px;top:550px;width:1px;height:179px;background:rgba(74,126,191,0.20);"></div>
<div style="left:285px;top:550px;width:1px;height:179px;background:rgba(74,126,191,0.40);"></div>
<div style="left:286px;top:550px;width:1px;height:179px;background:rgba(74,126,191,1.00);"></div>
<div style="left:36px;top:727px;width:251px;height:1px;background:rgba(74,126,191,0.55);"></div>
<div style="left:36px;top:728px;width:251px;height:1px;background:rgba(74,126,191,0.95);"></div>
<div class="body" style="left:45px;top:593px;width:114px;text-align:justify;text-align-last:justify">37.0 en San José del</div>
<div class="body" style="left:45px;top:605px;width:114px;text-align:justify;text-align-last:justify">Carmen (Las Choapas,</div>
<div class="body" style="left:45px;top:617px;width:114px;text-align:justify;text-align-last:justify">Ver.), 36.0 en Cuicatlán,</div>
<div class="body" style="left:45px;top:629px;width:114px;text-align:justify;text-align-last:justify">Oax. y en San Juan</div>
<div class="body" style="left:45px;top:641px;width:114px;text-align:justify;text-align-last:justify">Evangelista, Ver., 35.0 en</div>
<div class="body" style="left:45px;top:653px;width:114px;text-align:left;text-align-last:left">Carrizal (La Antigua, Ver.)</div>
<div class="body" style="left:175px;top:593px;width:103px;text-align:justify;text-align-last:justify">21.0 en Tlacotepec de</div>
<div class="body" style="left:175px;top:605px;width:103px;text-align:justify;text-align-last:justify">Díaz, Pue., 10.0 en Mesa</div>
<div class="body" style="left:175px;top:617px;width:103px;text-align:justify;text-align-last:justify">de Gómez (San Ándres</div>
<div class="body" style="left:175px;top:629px;width:103px;text-align:justify;text-align-last:justify">Tlanelhuayocan, Ver.),</div>
<div class="body" style="left:175px;top:641px;width:103px;text-align:justify;text-align-last:justify">5.5 en Teocelo, Ver., 6.0</div>
<div class="body" style="left:175px;top:653px;width:103px;text-align:left;text-align-last:left">en Cosautlán, Ver.,</div>
<div class="url" style="left:38.5px;top:778.5px;width:300px;height:21px;line-height:21px;text-align:left;">http://www.conagua.gob.mx/ocgc</div>
<div style="left:305px;top:776px;width:246px;height:1px;background:rgba(79,148,222,0.80);"></div>
<div style="left:305px;top:777px;width:246px;height:1px;background:rgba(79,148,222,0.80);"></div>
<div style="left:305px;top:795px;width:246px;height:1px;background:rgba(79,148,222,1.00);"></div>
<div style="left:305px;top:796px;width:246px;height:1px;background:rgba(79,148,222,0.60);"></div>
<div style="left:304px;top:776px;width:1px;height:21px;background:rgba(79,148,222,0.20);"></div>
<div style="left:305px;top:776px;width:1px;height:21px;background:rgba(79,148,222,1.00);"></div>
<div style="left:306px;top:776px;width:1px;height:21px;background:rgba(79,148,222,0.40);"></div>
<div style="left:549px;top:776px;width:1px;height:21px;background:rgba(79,148,222,0.60);"></div>
<div style="left:550px;top:776px;width:1px;height:21px;background:rgba(79,148,222,1.00);"></div>
<div class="elab" style="left:306px;top:777.5px;width:246px;height:19px;line-height:19px;text-align:center;">Elaboró: Jéssica I. Luna Lagunes.</div>
</body></html>
